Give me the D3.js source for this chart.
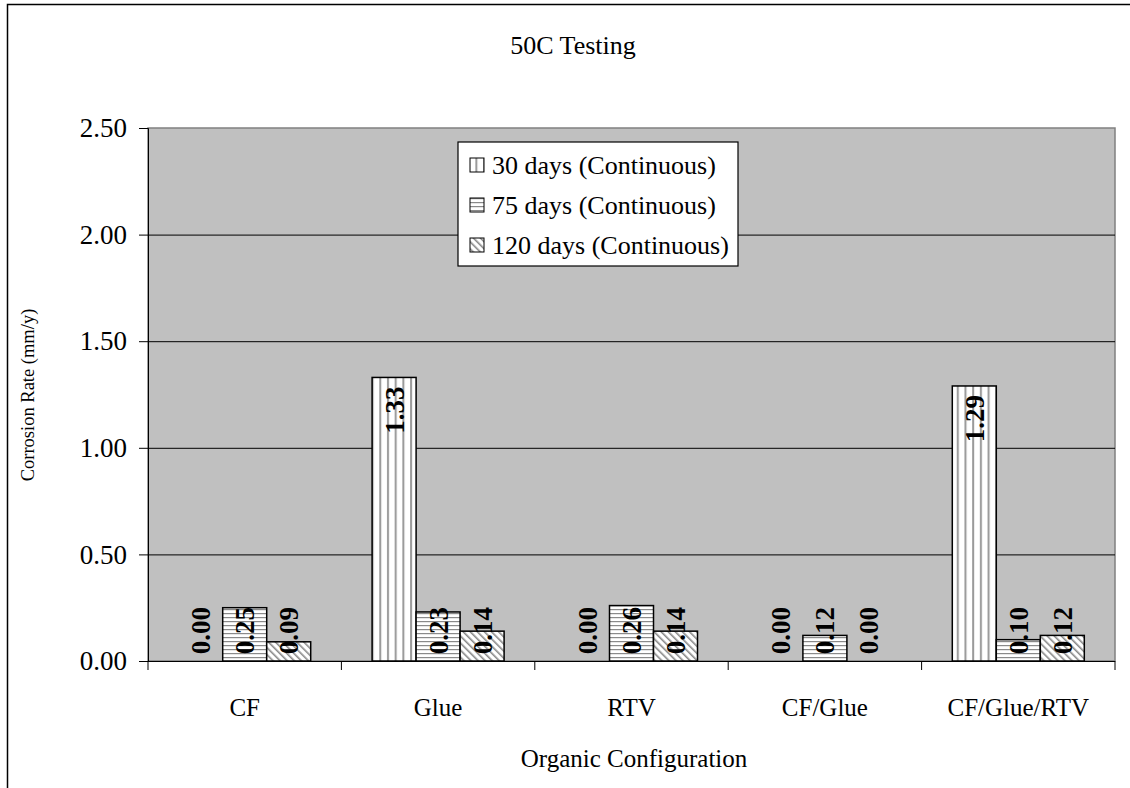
<!DOCTYPE html>
<html>
<head>
<meta charset="utf-8">
<script src="https://cdn.jsdelivr.net/npm/d3@7"></script>
<style>
  body { margin: 0; background: #fff; }
  text { font-family: "Liberation Serif", "Times New Roman", serif; }
</style>
</head>
<body>
<div id="chart"></div>
<script>
const categories = ["CF", "Glue", "RTV", "CF/Glue", "CF/Glue/RTV"];
const seriesNames = ["30 days (Continuous)", "75 days (Continuous)", "120 days (Continuous)"];
const days30 = [0.00, 1.33, 0.00, 0.00, 1.29];
const days75 = [0.25, 0.23, 0.26, 0.12, 0.10];
const days120 = [0.09, 0.14, 0.14, 0.00, 0.12];
const yTicks = [0, 0.5, 1.0, 1.5, 2.0, 2.5];

const width = 1130, height = 788;
const plot = {left: 148, top: 128, right: 1115, bottom: 661};

const svg = d3.select("#chart").append("svg")
    .attr("width", width).attr("height", height);

// hatch patterns
const defs = svg.append("defs");
let p = defs.append("pattern").attr("id", "pv").attr("patternUnits", "userSpaceOnUse")
    .attr("width", 7.7).attr("height", 10);
p.append("rect").attr("width", 7.7).attr("height", 10).attr("fill", "#fff");
p.append("rect").attr("x", 2).attr("width", 2).attr("height", 10).attr("fill", "#999");
p = defs.append("pattern").attr("id", "ph").attr("patternUnits", "userSpaceOnUse")
    .attr("width", 10).attr("height", 4);
p.append("rect").attr("width", 10).attr("height", 4).attr("fill", "#fff");
p.append("rect").attr("y", 1).attr("width", 10).attr("height", 1.2).attr("fill", "#8a8a8a");
p = defs.append("pattern").attr("id", "pd").attr("patternUnits", "userSpaceOnUse")
    .attr("width", 5).attr("height", 5).attr("patternTransform", "rotate(-45)");
p.append("rect").attr("width", 5).attr("height", 5).attr("fill", "#fff");
p.append("rect").attr("x", 0).attr("width", 1.6).attr("height", 5).attr("fill", "#8a8a8a");
const fills = ["url(#pv)", "url(#ph)", "url(#pd)"];

// outer border
svg.append("path")
    .attr("d", `M7.5,${height + 5} L7.5,4.5 L${width + 5},4.5`)
    .attr("fill", "none").attr("stroke", "#000").attr("stroke-width", 1.5);

const x0 = d3.scaleBand().domain(categories).range([plot.left, plot.right]);
const x1 = d3.scaleBand().domain(d3.range(3)).range([0, 132]);
const y = d3.scaleLinear().domain([0, 2.5]).range([plot.bottom, plot.top]);

// plot area
svg.append("rect")
    .attr("x", plot.left).attr("y", plot.top)
    .attr("width", plot.right - plot.left).attr("height", plot.bottom - plot.top)
    .attr("fill", "#c0c0c0").attr("stroke", "#808080").attr("stroke-width", 1.5);

svg.append("g").selectAll("line")
    .data(yTicks.slice(1, -1))
    .join("line")
    .attr("x1", plot.left).attr("x2", plot.right)
    .attr("y1", d => y(d) + 0.5).attr("y2", d => y(d) + 0.5)
    .attr("stroke", "#000").attr("stroke-width", 1);

// axes
const yAxis = svg.append("g").attr("transform", `translate(${plot.left},0)`)
    .call(d3.axisLeft(y).tickValues(yTicks).tickFormat(d3.format(".2f")).tickSize(9).tickPadding(12));
yAxis.select(".domain").attr("stroke", "#000");
yAxis.selectAll("text").attr("font-size", 27).attr("fill", "#000")
    .attr("font-family", "Liberation Serif");

const xTickPos = d3.range(categories.length + 1).map(i => plot.left + i * x0.step());
svg.append("g").selectAll("line").data(xTickPos).join("line")
    .attr("x1", d => d).attr("x2", d => d)
    .attr("y1", plot.bottom).attr("y2", plot.bottom + 9)
    .attr("stroke", "#000");
svg.append("line").attr("x1", plot.left).attr("x2", plot.right)
    .attr("y1", plot.bottom + 0.5).attr("y2", plot.bottom + 0.5).attr("stroke", "#000");
svg.append("g").selectAll("text").data(categories).join("text")
    .attr("x", d => x0(d) + x0.bandwidth() / 2)
    .attr("y", 716)
    .attr("text-anchor", "middle").attr("font-size", 25)
    .text(d => d);

// bars
const series = [days30, days75, days120];
const bars = [];
series.forEach((vals, s) => {
    vals.forEach((v, i) => bars.push({s, i, v}));
});
const bx = d => x0(categories[d.i]) + (x0.bandwidth() - 132) / 2 + x1(d.s);

svg.append("g").selectAll("rect").data(bars.filter(d => d.v > 0)).join("rect")
    .attr("x", bx)
    .attr("y", d => y(d.v))
    .attr("width", x1.bandwidth())
    .attr("height", d => plot.bottom - y(d.v))
    .attr("fill", d => fills[d.s])
    .attr("stroke", "#000").attr("stroke-width", 1.5);

svg.append("g").selectAll("text").data(bars).join("text")
    .attr("transform", d => {
        const top = Math.min(y(d.v) + 9, plot.bottom - 54);
        return `translate(${bx(d) + x1.bandwidth() / 2},${top}) rotate(-90)`;
    })
    .attr("text-anchor", "end").attr("dy", "0.35em")
    .attr("font-size", 27).attr("font-weight", "bold")
    .text(d => d3.format(".2f")(d.v));

// titles
svg.append("text").attr("x", 573).attr("y", 54).attr("text-anchor", "middle")
    .attr("font-size", 26).text("50C Testing");
svg.append("text").attr("x", 634).attr("y", 767).attr("text-anchor", "middle")
    .attr("font-size", 25).text("Organic Configuration");
svg.append("text").attr("transform", "translate(28,395) rotate(-90)")
    .attr("text-anchor", "middle").attr("dy", "0.35em").attr("font-size", 18.5)
    .text("Corrosion Rate (mm/y)");

// legend
const lg = svg.append("g").attr("transform", "translate(458,142)");
lg.append("rect").attr("width", 280).attr("height", 124)
    .attr("fill", "#fff").attr("stroke", "#000").attr("stroke-width", 1.2);
const items = lg.selectAll("g").data(seriesNames).join("g")
    .attr("transform", (d, i) => `translate(0,${23 + i * 40})`);
items.append("rect").attr("x", 12).attr("y", -7).attr("width", 14).attr("height", 14)
    .attr("fill", (d, i) => fills[i]).attr("stroke", "#000");
items.append("text").attr("x", 34).attr("dy", "0.35em").attr("font-size", 26).text(d => d);
</script>
</body>
</html>
